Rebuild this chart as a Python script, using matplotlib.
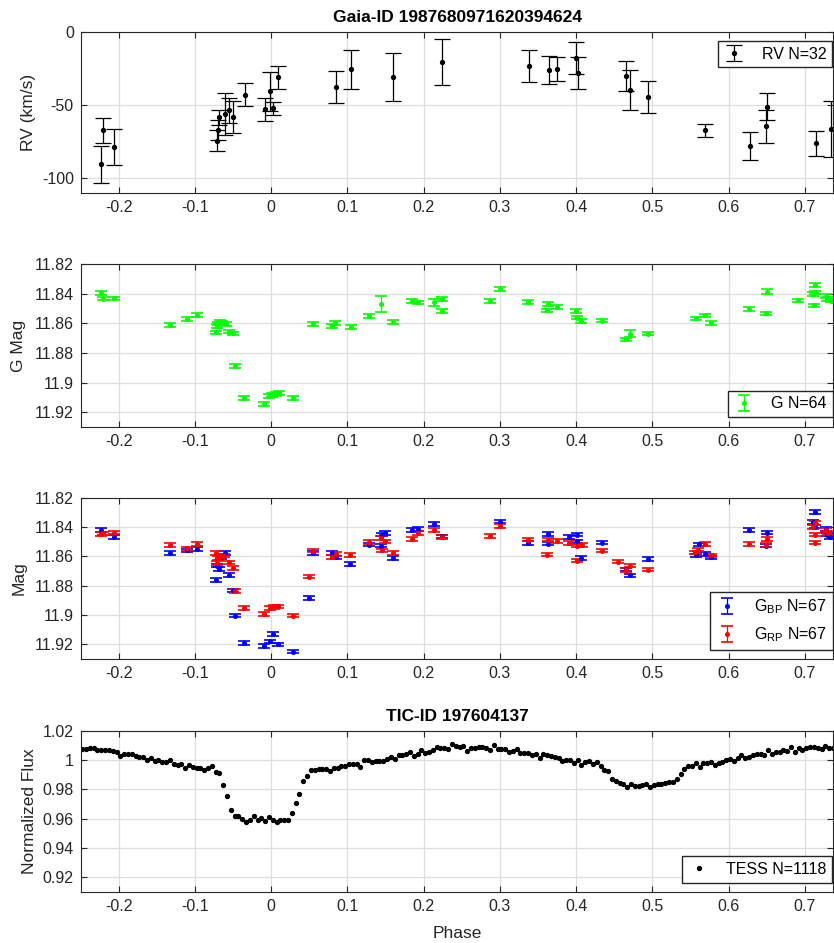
import numpy as np
import matplotlib
matplotlib.use('Agg')
import matplotlib.pyplot as plt
from matplotlib.ticker import FuncFormatter

plt.rcParams['font.family'] = ['Liberation Sans', 'DejaVu Sans']
plt.rcParams['mathtext.fontset'] = 'custom'
plt.rcParams['mathtext.rm'] = 'Liberation Sans'
plt.rcParams['axes.unicode_minus'] = False

# ---- RV data ----
rv_phase = [-0.223, -0.221, -0.206, -0.0717, -0.069, -0.0705, -0.061, -0.055, -0.0507, -0.035,
            -0.0088, -0.0018, 0.0026, 0.0087, 0.0847, 0.104, 0.160, 0.224, 0.3377, 0.3638,
            0.375, 0.400, 0.4023, 0.4657, 0.471, 0.4945, 0.569, 0.628, 0.649, 0.651, 0.7147, 0.734]
rv = [-90.5, -67.3, -78.4, -74.3, -58.3, -66.9, -56.0, -53.5, -58.0, -42.9,
      -53.0, -40.6, -52.1, -31.1, -37.9, -25.4, -30.8, -20.6, -23.3, -25.9,
      -25.4, -17.9, -28.1, -30.4, -39.5, -44.7, -67.3, -78.0, -64.6, -51.2, -76.2, -66.2]
rv_err = [12.5, 8.7, 12.2, 7.3, 5.1, 7.0, 14.2, 8.6, 10.9, 8.0,
          7.9, 13.4, 4.5, 7.9, 11.0, 13.3, 16.2, 15.4, 10.8, 9.7,
          8.4, 10.7, 10.9, 10.2, 13.7, 10.8, 4.3, 9.8, 11.2, 9.2, 8.4, 19.0]

# ---- Gaia G ----
g_phase = [-0.2233, -0.2211, -0.2063, -0.1329, -0.111, -0.097, -0.073, -0.0717, -0.070, -0.0673,
           -0.0642, -0.060, -0.0556, -0.0507, -0.0481, -0.0354, -0.0092, -0.0031, 0.0013, 0.0056,
           0.010, 0.0283, 0.055, 0.080, 0.083, 0.104, 0.128, 0.1442, 0.160, 0.1852,
           0.192, 0.213, 0.224, 0.224, 0.2874, 0.2996, 0.3368, 0.3626, 0.3617, 0.3748,
           0.3997, 0.401, 0.4067, 0.4346, 0.4653, 0.4709, 0.4941, 0.5574, 0.5692, 0.577,
           0.6273, 0.650, 0.6491, 0.6907, 0.7138, 0.7138, 0.7103, 0.7124, 0.7277, 0.7295, 0.734]
g_mag = [11.8394, 11.8432, 11.8430, 11.8611, 11.8568, 11.8543, 11.8660, 11.8618, 11.8600, 11.8586,
         11.8595, 11.8604, 11.8655, 11.8667, 11.8886, 11.9105, 11.9146, 11.9090, 11.9085, 11.9076,
         11.9069, 11.9103, 11.8602, 11.8618, 11.8597, 11.8622, 11.8548, 11.8469, 11.8591, 11.8449,
         11.8458, 11.8458, 11.8435, 11.8516, 11.8449, 11.8367, 11.8455, 11.8469, 11.8511, 11.8489,
         11.8516, 11.8560, 11.8583, 11.8581, 11.8707, 11.8669, 11.8669, 11.8566, 11.8546, 11.8595,
         11.8503, 11.8385, 11.8532, 11.8444, 11.8338, 11.8390, 11.8399, 11.8478, 11.8415, 11.8435, 11.8446]
g_err = [0.0012, 0.0012, 0.0012, 0.0012, 0.0012, 0.0012, 0.0012, 0.0012, 0.0012, 0.0012,
         0.0012, 0.0012, 0.0012, 0.0012, 0.0012, 0.0012, 0.0012, 0.0012, 0.0012, 0.0012,
         0.0012, 0.0012, 0.0012, 0.0012, 0.0012, 0.0012, 0.0012, 0.0056, 0.0012, 0.0012,
         0.0012, 0.0023, 0.0012, 0.0012, 0.0012, 0.0012, 0.0012, 0.0012, 0.0012, 0.0012,
         0.0012, 0.0012, 0.0012, 0.0012, 0.0012, 0.0025, 0.0012, 0.0012, 0.0012, 0.0012,
         0.0012, 0.0015, 0.0012, 0.0012, 0.0012, 0.0012, 0.0012, 0.0012, 0.0012, 0.0012, 0.0012]

# ---- Gaia BP / RP ----
bp_phase = [-0.2228, -0.2063, -0.1329, -0.111, -0.097, -0.073, -0.0717, -0.0687, -0.0664, -0.0608,
            -0.055, -0.0507, -0.0481, -0.0354, -0.0092, -0.0018, 0.0026, 0.0087, 0.0288, 0.0493,
            0.055, 0.080, 0.0847, 0.1039, 0.128, 0.1442, 0.1455, 0.1498, 0.160, 0.1852,
            0.192, 0.2131, 0.2241, 0.2996, 0.3368, 0.3625, 0.3625, 0.391, 0.401, 0.401,
            0.4067, 0.4346, 0.4709, 0.4653, 0.4941, 0.5574, 0.5618, 0.5692, 0.5771, 0.6273,
            0.650, 0.6491, 0.7138, 0.7112, 0.7138, 0.7277, 0.7329, 0.7295]
bp_mag = [11.8419, 11.8467, 11.8578, 11.8560, 11.8550, 11.8761, 11.8664, 11.8686, 11.8605, 11.8578,
          11.8727, 11.8832, 11.9005, 11.9191, 11.9212, 11.9180, 11.9130, 11.9200, 11.9250, 11.8884,
          11.8578, 11.8576, 11.8607, 11.8652, 11.8521, 11.8528, 11.8453, 11.8442, 11.8612, 11.8421,
          11.8415, 11.8379, 11.8465, 11.8363, 11.8510, 11.8449, 11.8514, 11.8467, 11.8453, 11.8499,
          11.8612, 11.8506, 11.8730, 11.8689, 11.8619, 11.8594, 11.8519, 11.8584, 11.8607, 11.8421,
          11.8438, 11.8528, 11.8299, 11.8367, 11.8397, 11.8415, 11.8469, 11.8453]
rp_phase = [-0.2228, -0.221, -0.2063, -0.1329, -0.111, -0.097, -0.073, -0.0717, -0.070, -0.0664,
            -0.062, -0.0556, -0.0507, -0.0472, -0.0354, -0.0092, -0.0018, 0.0034, 0.0087, 0.0288,
            0.0493, 0.055, 0.080, 0.0847, 0.1039, 0.128, 0.1442, 0.1455, 0.1498, 0.160,
            0.1852, 0.192, 0.2131, 0.2241, 0.2874, 0.2996, 0.3368, 0.3625, 0.3617, 0.3748,
            0.391, 0.401, 0.401, 0.4076, 0.4346, 0.4548, 0.4653, 0.4709, 0.4941, 0.5561,
            0.5604, 0.5692, 0.5771, 0.6273, 0.650, 0.6491, 0.7138, 0.7112, 0.7138, 0.7138,
            0.7277, 0.7307]
rp_mag = [11.8449, 11.8444, 11.8438, 11.8523, 11.8546, 11.8517, 11.8578, 11.8646, 11.8612, 11.8596,
          11.8596, 11.8641, 11.8680, 11.8836, 11.8951, 11.8995, 11.8951, 11.8944, 11.8942, 11.9005,
          11.8739, 11.8562, 11.8605, 11.8584, 11.8591, 11.8503, 11.8474, 11.8560, 11.8499, 11.8578,
          11.8483, 11.8442, 11.8419, 11.8469, 11.8460, 11.8392, 11.8487, 11.8487, 11.8589, 11.8496,
          11.8510, 11.8630, 11.8528, 11.8523, 11.8562, 11.8637, 11.8693, 11.8664, 11.8691, 11.8573,
          11.8555, 11.8517, 11.8594, 11.8517, 11.8481, 11.8523, 11.8374, 11.8401, 11.8453, 11.8506,
          11.8419, 11.8442]
phot_err = 0.0012

# ---- TESS binned light curve ----
tess_flux = [1.0077, 1.0077, 1.0084, 1.0082, 1.0066, 1.0066, 1.0070, 1.0068, 1.0059, 1.0055,
             1.0030, 1.0041, 1.0041, 1.0039, 1.0030, 1.0020, 1.0020, 0.9998, 1.0014, 0.9991,
             1.0000, 0.9984, 0.9986, 0.9998, 0.9975, 0.9968, 0.9970, 0.9948, 0.9964, 0.9952,
             0.9943, 0.9945, 0.9932, 0.9943, 0.9961, 0.9916, 0.9909, 0.9832, 0.9752, 0.9657,
             0.9621, 0.9616, 0.9598, 0.9580, 0.9593, 0.9616, 0.9593, 0.9605, 0.9582, 0.9609,
             0.9593, 0.9580,
             0.9589, 0.9593, 0.9589, 0.9636, 0.9707, 0.9768, 0.9855, 0.9891, 0.9934, 0.9932,
             0.9939, 0.9941, 0.9939, 0.9927, 0.9943, 0.9948, 0.9957, 0.9959, 0.9973, 0.9975,
             0.9975, 0.9955, 1.0002, 0.9998, 0.9986, 0.9991, 0.9995, 0.9993, 1.0007, 1.0023,
             1.0007, 1.0034, 1.0036, 1.0041, 1.0052, 1.0030, 1.0041, 1.0068, 1.0048, 1.0052,
             1.0070, 1.0086, 1.0084, 1.0082, 1.0075, 1.0109, 1.0093, 1.0089, 1.0098, 1.0059,
             1.0084, 1.0084, 1.0089, 1.0089, 1.0084, 1.0068, 1.0100, 1.0075, 1.0077, 1.0073,
             1.0055, 1.0064, 1.0075, 1.0048, 1.0048, 1.0045, 1.0032, 1.0043, 1.0016, 1.0039,
             1.0034, 1.0025, 1.0023, 1.0011, 0.9995, 1.0002, 1.0002, 0.9977, 1.0002, 0.9966,
             0.9984, 0.9995, 0.9973, 0.9984, 0.9961, 0.9930, 0.9925, 0.9870, 0.9855, 0.9841,
             0.9836, 0.9814, 0.9839, 0.9823, 0.9820, 0.9832, 0.9839, 0.9814, 0.9830, 0.9836,
             0.9836, 0.9841, 0.9850, 0.9852, 0.9873, 0.9905, 0.9941, 0.9959, 0.9957, 0.9982,
             0.9952, 0.9980, 0.9977, 0.9986, 0.9968, 0.9982, 0.9984, 0.9998, 1.0007, 0.9993,
             1.0011, 1.0032, 1.0014, 1.0020, 1.0036, 1.0039, 1.0043, 1.0032, 1.0068, 1.0039,
             1.0052, 1.0055, 1.0070, 1.0061, 1.0089, 1.0052, 1.0084, 1.0066, 1.0084, 1.0091,
             1.0091, 1.0084, 1.0077, 1.0093, 1.0080, 1.0082]
tess_phase = np.linspace(-0.248, 0.737, len(tess_flux))  # bin centres

xticks = [-0.2, -0.1, 0, 0.1, 0.2, 0.3, 0.4, 0.5, 0.6, 0.7]
dark = '#262626'
fmt = FuncFormatter(lambda v, p: '%g' % round(v, 4))

fig = plt.figure(figsize=(8.34, 9.43), dpi=100)
left, width = 0.0968, 0.9024
ax1 = fig.add_axes([left, 0.7953, width, 0.1710])
ax2 = fig.add_axes([left, 0.5472, width, 0.1725])
ax3 = fig.add_axes([left, 0.3012, width, 0.1711])
ax4 = fig.add_axes([left, 0.0541, width, 0.1711])

for ax in (ax1, ax2, ax3, ax4):
    ax.set_xlim(-0.25, 0.7375)
    ax.set_xticks(xticks)
    ax.xaxis.set_major_formatter(fmt)
    ax.yaxis.set_major_formatter(fmt)
    ax.grid(True, color='#dedede', linewidth=0.9)
    ax.set_axisbelow(True)
    ax.tick_params(direction='in', length=4, width=0.8, top=True, right=True,
                   labelsize=11.5, colors=dark, labelcolor=dark, pad=5)
    for s in ax.spines.values():
        s.set_color(dark)
        s.set_linewidth(0.8)

leg_kw = dict(fontsize=11.5, fancybox=False, framealpha=1, edgecolor=dark,
              borderaxespad=0, handlelength=1.4, handletextpad=1.0, borderpad=0.35)

# RV
ax1.errorbar(rv_phase, rv, yerr=rv_err, fmt='o', ms=2.8, color='k', ecolor='k',
             elinewidth=0.9, capsize=5.5, capthick=0.9, label='RV N=32')
ax1.set_ylim(-110, 0)
ax1.set_yticks([-100, -50, 0])
ax1.set_ylabel('RV (km/s)', fontsize=12.5, color=dark)
ax1.set_title('Gaia-ID 1987680971620394624', fontsize=12.5, fontweight='bold', pad=7)
ax1.legend(loc='upper right', bbox_to_anchor=(0.998, 0.942), **leg_kw)

# G
ax2.errorbar(g_phase, g_mag, yerr=g_err, fmt='o', ms=2.6, color='#00ff00', ecolor='#00ff00',
             elinewidth=0.9, capsize=4.5, capthick=1.2, label='G N=64')
ax2.set_ylim(11.93, 11.82)
ax2.set_yticks([11.82, 11.84, 11.86, 11.88, 11.9, 11.92])
ax2.set_ylabel('G Mag', fontsize=12.5, color=dark, labelpad=6)
ax2.legend(loc='lower right', bbox_to_anchor=(0.999, 0.063), **leg_kw)

# BP / RP
ax3.errorbar(bp_phase, bp_mag, yerr=phot_err, fmt='o', ms=2.6, color='#0000ff', ecolor='#0000ff',
             elinewidth=0.9, capsize=4.5, capthick=1.2, label=r'G$_{\rm BP}$ N=67')
ax3.errorbar(rp_phase, rp_mag, yerr=phot_err, fmt='o', ms=2.6, color='#ff0000', ecolor='#ff0000',
             elinewidth=0.9, capsize=4.5, capthick=1.2, label=r'G$_{\rm RP}$ N=67')
ax3.set_ylim(11.93, 11.82)
ax3.set_yticks([11.82, 11.84, 11.86, 11.88, 11.9, 11.92])
ax3.set_ylabel('Mag', fontsize=12.5, color=dark, labelpad=6)
ax3.legend(loc='lower right', bbox_to_anchor=(0.9995, 0.056), labelspacing=0.6, **leg_kw)

# TESS
ax4.plot(tess_phase, tess_flux, 'o', ms=2.8, color='k', label='TESS N=1118')
ax4.set_ylim(0.91, 1.02)
ax4.set_yticks([0.92, 0.94, 0.96, 0.98, 1.0, 1.02])
ax4.set_ylabel('Normalized Flux', fontsize=12.5, color=dark)
ax4.set_xlabel('Phase', fontsize=12.5, color=dark, labelpad=9)
ax4.set_title('TIC-ID 197604137', fontsize=12.5, fontweight='bold', pad=7)
ax4.legend(loc='lower right', bbox_to_anchor=(0.998, 0.058), **leg_kw)

fig.savefig('out.png', dpi=100)
